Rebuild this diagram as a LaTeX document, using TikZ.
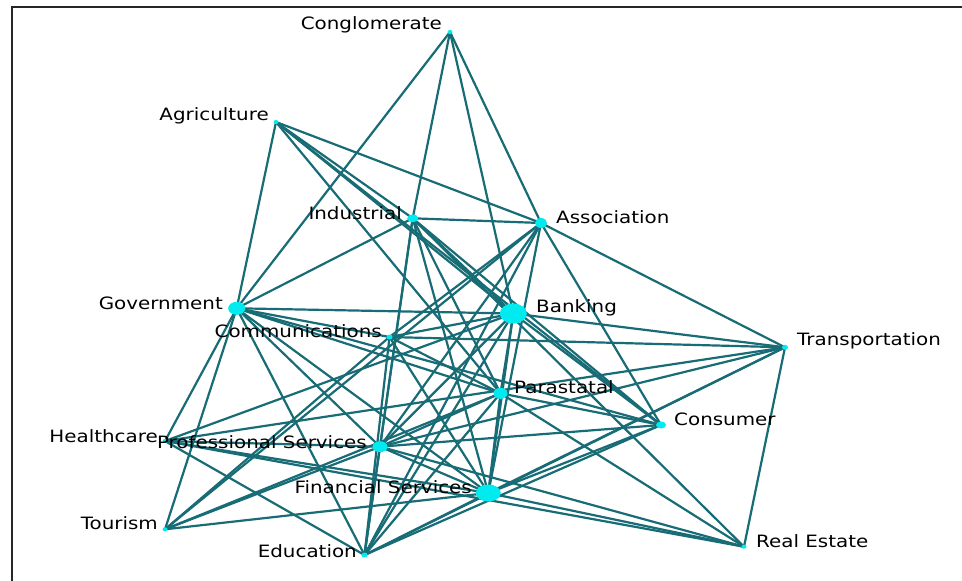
\documentclass[tikz,border=0pt]{standalone}
\usepackage{fontspec}
\usetikzlibrary{shapes.geometric}
\newfontfamily\labfont[FakeStretch=1.17]{DejaVu Sans}
\definecolor{edgec}{RGB}{24,108,118}
\definecolor{dotc}{RGB}{0,235,240}
\tikzset{
  link/.style={draw=edgec,line width=2.2pt},
  dot/.style={ellipse,fill=dotc,draw=none,inner sep=0pt},
  lab/.style={font=\labfont\fontsize{17}{17}\selectfont,text=black,inner sep=0pt},
}
\begin{document}
\begin{tikzpicture}[x=1pt,y=-1pt]
\useasboundingbox (0,0) rectangle (962,581);
\fill[white] (0,0) rectangle (962,581);
\draw[line width=1.6pt,black!85] (12,581) -- (12,7) -- (962,7);
% node positions
\coordinate (cong) at (450,32);
\coordinate (agri) at (276,122);
\coordinate (ind) at (412.7,218.3);
\coordinate (assoc) at (541,223);
\coordinate (gov) at (236.7,308.3);
\coordinate (bank) at (513.3,313.5);
\coordinate (comm) at (389.5,337);
\coordinate (trans) at (785,347.3);
\coordinate (para) at (500.5,393.3);
\coordinate (cons) at (661,425);
\coordinate (health) at (165,441);
\coordinate (ps) at (380,446.7);
\coordinate (fs) at (488.3,493);
\coordinate (tour) at (165,529.3);
\coordinate (edu) at (364.5,555);
\coordinate (re) at (744,546.7);
% edges
\foreach \a/\b in {cong/gov,cong/ind,cong/bank,cong/assoc,
  agri/gov,agri/assoc,agri/ind,agri/bank,agri/para,agri/cons,
  ind/gov,ind/assoc,ind/ps,ind/edu,ind/bank,ind/para,ind/fs,ind/cons,ind/re,
  assoc/comm,assoc/ps,assoc/edu,assoc/fs,assoc/trans,assoc/cons,assoc/tour,
  gov/bank,gov/comm,gov/para,gov/cons,gov/fs,gov/edu,gov/health,gov/tour,gov/ps,
  bank/comm,bank/trans,bank/para,bank/cons,bank/ps,bank/fs,bank/edu,bank/health,
  comm/trans,comm/para,comm/tour,comm/fs,comm/edu,
  trans/ps,trans/fs,trans/edu,trans/re,trans/health,
  para/ps,para/fs,para/cons,para/edu,para/re,para/tour,
  cons/ps,cons/fs,cons/edu,
  ps/health,ps/fs,ps/tour,ps/re,ps/edu,
  fs/health,fs/tour,fs/edu,fs/re,health/edu,health/re}
  \draw[link] (\a) -- (\b);
% dots
\node[dot,minimum width=5pt,minimum height=4pt] (cong-d) at (cong) {};
\node[dot,minimum width=5pt,minimum height=4pt] (agri-d) at (agri) {};
\node[dot,minimum width=11pt,minimum height=8pt] (ind-d) at (ind) {};
\node[dot,minimum width=12pt,minimum height=10pt] (assoc-d) at (assoc) {};
\node[dot,minimum width=17pt,minimum height=13pt] (gov-d) at (gov) {};
\node[dot,minimum width=27pt,minimum height=20pt] (bank-d) at (bank) {};
\node[dot,minimum width=6pt,minimum height=5pt] (comm-d) at (comm) {};
\node[dot,minimum width=6pt,minimum height=5pt] (trans-d) at (trans) {};
\node[dot,minimum width=14pt,minimum height=11pt] (para-d) at (para) {};
\node[dot,minimum width=10pt,minimum height=7pt] (cons-d) at (cons) {};
\node[dot,minimum width=5pt,minimum height=4pt] (health-d) at (health) {};
\node[dot,minimum width=15pt,minimum height=11pt] (ps-d) at (ps) {};
\node[dot,minimum width=25pt,minimum height=17pt] (fs-d) at (fs) {};
\node[dot,minimum width=5pt,minimum height=4pt] (tour-d) at (tour) {};
\node[dot,minimum width=6pt,minimum height=5pt] (edu-d) at (edu) {};
\node[dot,minimum width=5pt,minimum height=4pt] (re-d) at (re) {};
% labels
\node[lab,anchor=east] (cong-l) at (442,25) {Conglomerate};
\node[lab,anchor=east] (agri-l) at (269,116) {Agriculture};
\node[lab,anchor=east] (ind-l) at (402,213) {Industrial};
\node[lab,anchor=west] (assoc-l) at (556,217) {Association};
\node[lab,anchor=east] (gov-l) at (223,303) {Government};
\node[lab,anchor=west] (bank-l) at (536,308) {Banking};
\node[lab,anchor=east] (comm-l) at (382,331) {Communications};
\node[lab,anchor=west] (trans-l) at (797,341) {Transportation};
\node[lab,anchor=west] (para-l) at (514,387) {Parastatal};
\node[lab,anchor=west] (cons-l) at (674,419) {Consumer};
\node[lab,anchor=east] (health-l) at (158,436) {Healthcare};
\node[lab,anchor=east] (ps-l) at (367,442) {Professional Services};
\node[lab,anchor=east] (fs-l) at (472,487) {Financial Services};
\node[lab,anchor=east] (tour-l) at (158,523) {Tourism};
\node[lab,anchor=east] (edu-l) at (357,551) {Education};
\node[lab,anchor=west] (re-l) at (756,541) {Real Estate};
\end{tikzpicture}
\end{document}
